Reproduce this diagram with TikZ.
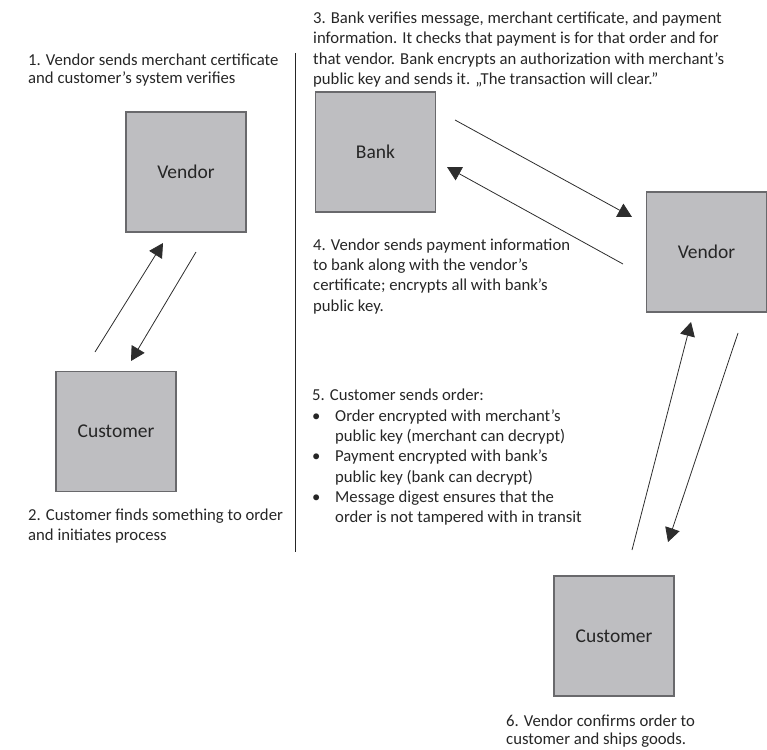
\documentclass[tikz,border=0pt]{standalone}
\usepackage{fontspec}
\setmainfont{Carlito}
\usetikzlibrary{arrows.meta}

\definecolor{boxfill}{RGB}{190,190,193}
\definecolor{boxedge}{RGB}{105,105,108}
\definecolor{ink}{RGB}{38,38,38}
\definecolor{wire}{RGB}{45,45,45}

\tikzset{
  party/.style={draw=boxedge, fill=boxfill, line width=1.3pt,
    minimum width=120pt, minimum height=120pt, inner sep=0pt,
    text=ink, font=\fontsize{19.5}{23}\selectfont},
  note/.style={anchor=north west, inner sep=0pt, align=left, text=ink,
    font=\fontsize{16.7}{20.3}\selectfont},
  msg/.style={draw=wire, line width=0.8pt,
    -{Triangle[angle=60:15pt, length=14pt]}},
  divider/.style={draw=ink, line width=1pt}
}

\begin{document}
\begin{tikzpicture}[x=1pt, y=-1pt]
  \useasboundingbox (0,0) rectangle (767,749);

  % participants
  \node[party] (vendorA)   at (186,172)   {Vendor};
  \node[party] (customerA) at (116,431.5) {Customer};
  \node[party] (bank)      at (375.5,152) {Bank};
  \node[party] (vendorB)   at (706.5,252) {Vendor};
  \node[party] (customerB) at (614,636)   {Customer};

  % separator between the two phases
  \coordinate (sepTop) at (295.5,53);
  \coordinate (sepBot) at (295.5,552);
  \draw[divider] (sepTop) -- (sepBot);

  % message end points
  \coordinate (a1) at (95,352);    \coordinate (a2) at (163,243);
  \coordinate (b1) at (196,252);   \coordinate (b2) at (131,361);
  \coordinate (c1) at (455,120);   \coordinate (c2) at (632,217);
  \coordinate (d1) at (623,264);   \coordinate (d2) at (447,167);
  \coordinate (e1) at (632,550);   \coordinate (e2) at (691,322);
  \coordinate (f1) at (738,333);   \coordinate (f2) at (668,542);

  \draw[msg] (a1) -- (a2);
  \draw[msg] (b1) -- (b2);
  \draw[msg] (c1) -- (c2);
  \draw[msg] (d1) -- (d2);
  \draw[msg] (e1) -- (e2);
  \draw[msg] (f1) -- (f2);

  % step descriptions
  \node[note, font=\fontsize{16.7}{18.5}\selectfont] (step1) at (28,53.5)
    {1. Vendor sends merchant certificate\\and customer’s system verifies};
  \node[note, font=\fontsize{16.7}{19.5}\selectfont] (step2) at (28,509)
    {2. Customer finds something to order\\and initiates process};
  \node[note] (step3) at (313,11.8)
    {3. Bank verifies message, merchant certificate, and payment\\
     information. It checks that payment is for that order and for\\
     that vendor. Bank encrypts an authorization with merchant’s\\
     public key and sends it. „The transaction will clear.”};
  \node[note] (step4) at (313,238.5)
    {4. Vendor sends payment information\\to bank along with the vendor’s\\
     certificate; encrypts all with bank’s\\public key.};
  \node[note] (step5) at (312,389)
    {5. Customer sends order:\\
     \makebox[23pt][l]{\textbullet}Order encrypted with merchant’s\\
     \hspace*{23pt}public key (merchant can decrypt)\\
     \makebox[23pt][l]{\textbullet}Payment encrypted with bank’s\\
     \hspace*{23pt}public key (bank can decrypt)\\
     \makebox[23pt][l]{\textbullet}Message digest ensures that the\\
     \hspace*{23pt}order is not tampered with in transit};
  \node[note, font=\fontsize{16.7}{18}\selectfont] (step6) at (506,714.5)
    {6. Vendor confirms order to\\customer and ships goods.};
\end{tikzpicture}
\end{document}
